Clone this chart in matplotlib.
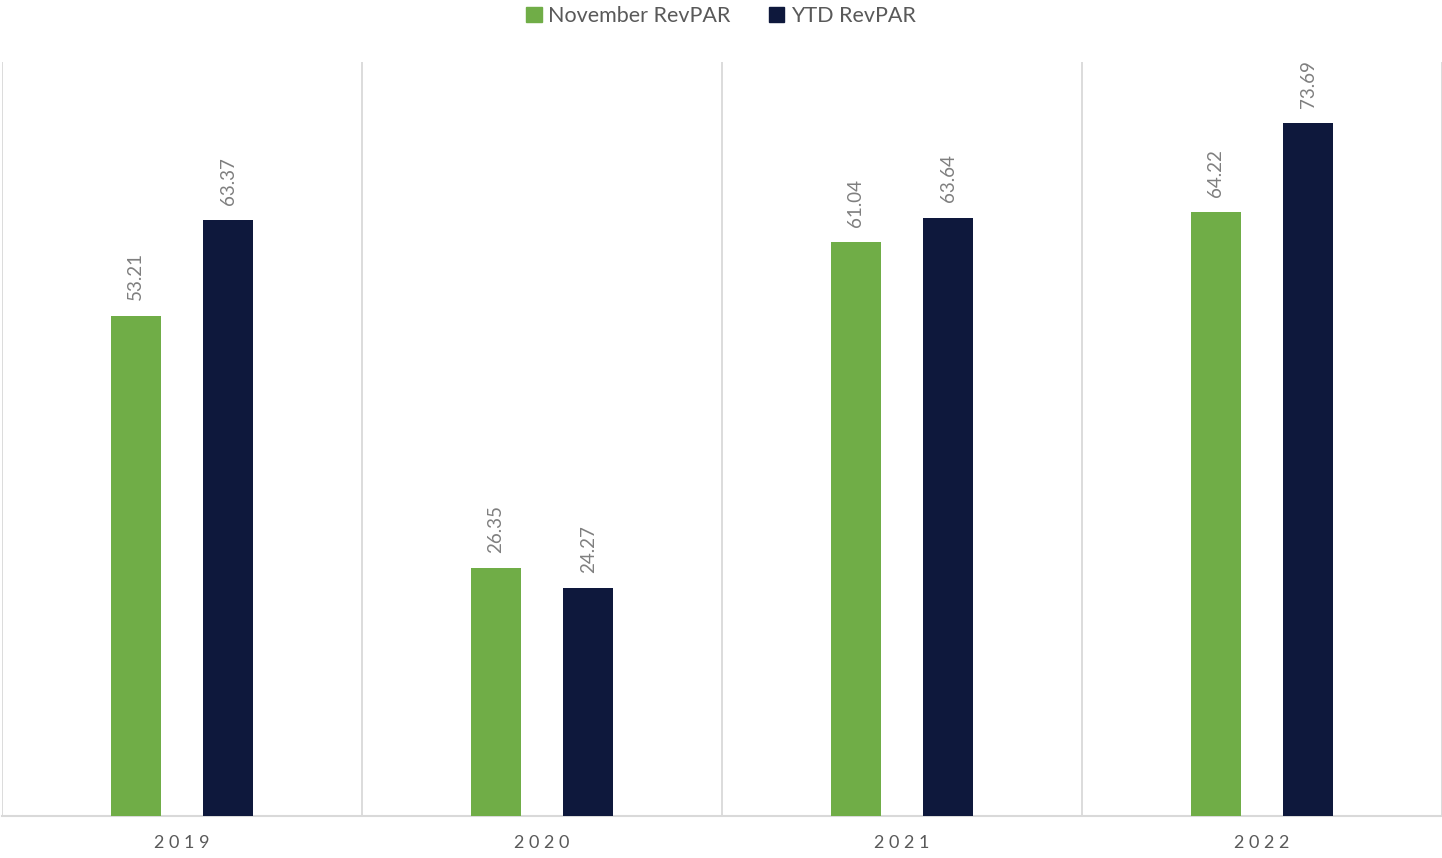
import matplotlib
matplotlib.use("Agg")
import matplotlib.pyplot as plt
from matplotlib.patches import Patch
import numpy as np

categories = ["2019", "2020", "2021", "2022"]
november_revpar = [53.21, 26.35, 61.04, 64.22]
ytd_revpar = [63.37, 24.27, 63.64, 73.69]
series_names = ["November RevPAR", "YTD RevPAR"]

GREEN = "#70AD47"
NAVY = "#0E183C"
GRID = "#D9D9D9"

plt.rcParams['font.family'] = ['Lato', 'DejaVu Sans']

fig = plt.figure(figsize=(14.42, 8.58), dpi=100)
ax = fig.add_axes([2/1442, 42/858, 1440/1442, 754/858])

x = np.arange(len(categories))
w = 0.139
off = 0.129
b1 = ax.bar(x - off, november_revpar, w, color=GREEN, zorder=3)
b2 = ax.bar(x + off, ytd_revpar, w, color=NAVY, zorder=3)

for bars, vals in ((b1, november_revpar), (b2, ytd_revpar)):
    for r, v in zip(bars, vals):
        ax.annotate(f"{v:.2f}", (r.get_x() + r.get_width() / 2, v),
                    xytext=(0, 11), textcoords="offset points",
                    rotation=90, ha="center", va="bottom",
                    fontsize=13.5, color="#7F7F7F")

ax.set_xlim(-0.5, 3.5)
ax.set_ylim(0, 80.2)
ax.set_yticks([])
ax.set_xticks(x)
ax.set_xticklabels([" ".join(c) for c in categories], fontsize=13, color="#595959")
ax.tick_params(axis="x", length=0, pad=14)
ax.set_xticks(np.arange(-0.5, 3.6, 1.0), minor=True)
ax.tick_params(axis="x", which="minor", length=0)
ax.grid(axis="x", which="minor", color=GRID, linewidth=1.3, zorder=0)

for s in ("top", "right", "left"):
    ax.spines[s].set_visible(False)
ax.spines["bottom"].set_color(GRID)
ax.spines["bottom"].set_linewidth(1.5)

handles = [Patch(color=GREEN, label=series_names[0]), Patch(color=NAVY, label=series_names[1])]
fig.legend(handles=handles, loc="upper center", bbox_to_anchor=(0.5, 1.016), ncol=2,
           frameon=False, fontsize=15.5, handlelength=0.7, handleheight=0.7,
           handletextpad=0.3, columnspacing=1.8, labelcolor="#595959")

fig.savefig("out.png", dpi=100)
